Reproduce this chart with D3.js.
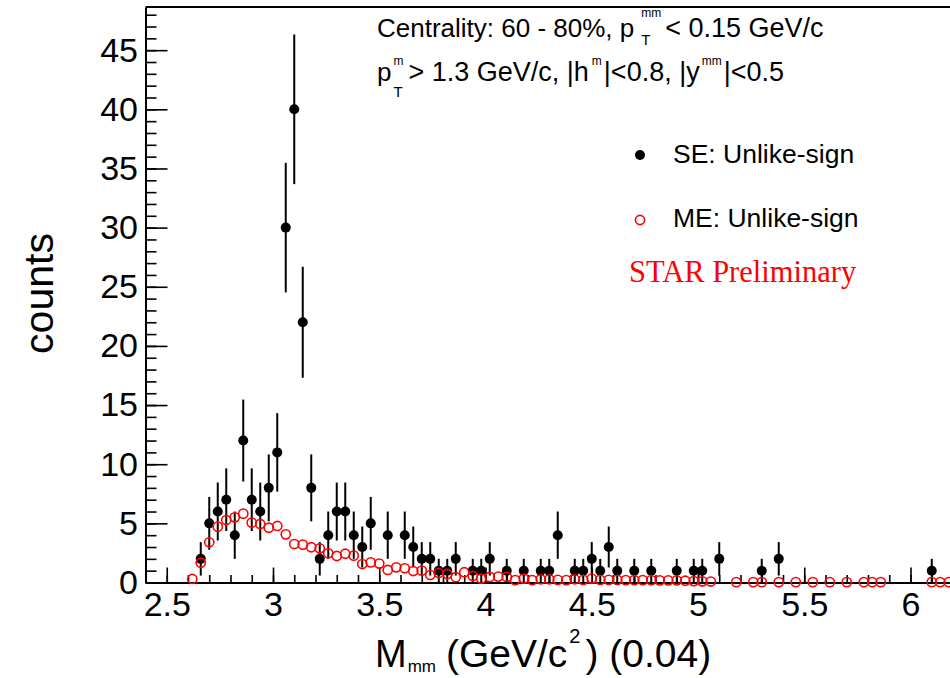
<!DOCTYPE html>
<html>
<head>
<meta charset="utf-8">
<script src="https://cdn.jsdelivr.net/npm/d3@7"></script>
<style>
  body { margin: 0; background: #fff; }
  svg { display: block; }
  text { font-family: "Liberation Sans", Arial, Helvetica, sans-serif; }
</style>
</head>
<body>
<svg id="chart" width="950" height="678"></svg>
<script>
// Same-event unlike-sign pairs: bin centre (GeV/c^2) and counts
const seMass = [2.66, 2.70, 2.74, 2.78, 2.82, 2.86, 2.90, 2.94, 2.98, 3.02,
                3.06, 3.10, 3.14, 3.18, 3.22, 3.26, 3.30, 3.34, 3.38, 3.42,
                3.46, 3.54, 3.62, 3.66, 3.70, 3.74, 3.78, 3.82, 3.86, 3.94,
                3.98, 4.02, 4.10, 4.18, 4.26, 4.30, 4.34, 4.42, 4.46, 4.50,
                4.54, 4.58, 4.62, 4.70, 4.78, 4.90, 4.98, 5.02, 5.10, 5.30,
                5.38, 6.10];
const seCounts = [2, 5, 6, 7, 4, 12, 7, 6, 8, 11,
                  30, 40, 22, 8, 2, 4, 6, 6, 4, 3,
                  5, 4, 4, 3, 2, 2, 1, 1, 2, 1,
                  1, 2, 1, 1, 1, 1, 4, 1, 1, 2,
                  1, 3, 1, 1, 1, 1, 1, 1, 2, 1,
                  2, 1];

// Mixed-event unlike-sign background (normalised)
const meMass = [2.62, 2.66, 2.70, 2.74, 2.78, 2.82, 2.86, 2.90, 2.94, 2.98,
                3.02, 3.06, 3.10, 3.14, 3.18, 3.22, 3.26, 3.30, 3.34, 3.38,
                3.42, 3.46, 3.50, 3.54, 3.58, 3.62, 3.66, 3.70, 3.74, 3.78,
                3.82, 3.86, 3.90, 3.94, 3.98, 4.02, 4.06, 4.10, 4.14, 4.18,
                4.22, 4.26, 4.30, 4.34, 4.38, 4.42, 4.46, 4.50, 4.54, 4.58,
                4.62, 4.66, 4.70, 4.74, 4.78, 4.82, 4.86, 4.90, 4.94, 4.98,
                5.02, 5.06, 5.18, 5.26, 5.30, 5.38, 5.46, 5.54, 5.62, 5.70,
                5.78, 5.82, 5.86, 6.10, 6.14, 6.18];
const meCounts = [0.30, 1.67, 3.40, 4.72, 5.28, 5.51, 5.82, 5.06, 4.95, 4.63,
                  4.78, 4.07, 3.25, 3.20, 2.98, 2.89, 2.47, 2.24, 2.43, 2.27,
                  1.56, 1.70, 1.60, 1.06, 1.28, 1.20, 0.97, 1.00, 0.63, 0.80,
                  0.72, 0.45, 0.87, 0.55, 0.33, 0.47, 0.50, 0.47, 0.20, 0.33,
                  0.20, 0.27, 0.27, 0.22, 0.20, 0.27, 0.22, 0.33, 0.22, 0.22,
                  0.22, 0.20, 0.20, 0.20, 0.20, 0.18, 0.18, 0.18, 0.15, 0.12,
                  0.10, 0.08, 0.03, 0.03, 0.03, 0.03, 0.03, 0.03, 0.03, 0.03,
                  0.03, 0.03, 0.03, 0.03, 0.03, 0.03];

// Axis ticks
const xTickValues = [2.5, 3, 3.5, 4, 4.5, 5, 5.5, 6];
const xTickLabels = ["2.5", "3", "3.5", "4", "4.5", "5", "5.5", "6"];
const xMinorValues = d3.range(24, 63).map(d => d / 10);
const yTickValues = [0, 5, 10, 15, 20, 25, 30, 35, 40, 45];
const yTickLabels = ["0", "5", "10", "15", "20", "25", "30", "35", "40", "45"];
const yMinorValues = d3.range(0, 49);

const svg = d3.select("#chart");
const frame = { left: 145.5, right: 953, top: 7, bottom: 582.5 };

const x = d3.scaleLinear().domain([2.4, 6.2]).range([frame.left, frame.right]);
const y = d3.scaleLinear().domain([0, 48.65]).range([frame.bottom, frame.top]);

// Lays out text pieces left to right; a piece with "stack" starts at the
// same x as the piece before it (sub- and superscript on one letter).
function flow(parent, x0, pieces) {
  let cx = x0, lastStart = x0, lastEnd = x0;
  pieces.forEach(p => {
    const start = p.stack ? lastStart : cx + (p.dx || 0);
    const t = parent.append("text")
      .attr("x", start).attr("y", p.y)
      .attr("font-size", p.size)
      .attr("fill", "#000")
      .text(p.text);
    const end = start + t.node().getComputedTextLength();
    if (p.stack) {
      lastEnd = Math.max(lastEnd, end);
    } else {
      lastStart = start;
      lastEnd = end;
    }
    cx = lastEnd;
  });
}

// Minor ticks
svg.append("g")
  .attr("transform", `translate(0,${frame.bottom})`)
  .call(d3.axisBottom(x).tickValues(xMinorValues).tickSize(-7.5).tickFormat(""))
  .call(g => g.select(".domain").remove())
  .call(g => g.selectAll("line").attr("stroke", "#000").attr("stroke-width", 1.6));

svg.append("g")
  .attr("transform", `translate(${frame.left},0)`)
  .call(d3.axisLeft(y).tickValues(yMinorValues).tickSize(-11).tickFormat(""))
  .call(g => g.select(".domain").remove())
  .call(g => g.selectAll("line").attr("stroke", "#000").attr("stroke-width", 1.6));

// Major ticks and labels
svg.append("g")
  .attr("transform", `translate(0,${frame.bottom})`)
  .call(d3.axisBottom(x).tickValues(xTickValues)
    .tickFormat((d, i) => xTickLabels[i])
    .tickSizeInner(-15).tickSizeOuter(0).tickPadding(9))
  .call(g => g.select(".domain").attr("stroke", "#000").attr("stroke-width", 2))
  .call(g => g.selectAll("line").attr("stroke", "#000").attr("stroke-width", 1.6))
  .call(g => g.selectAll("text").attr("fill", "#000").attr("font-size", 34)
    .attr("font-family", "'Liberation Sans', Arial, sans-serif"));

svg.append("g")
  .attr("transform", `translate(${frame.left},0)`)
  .call(d3.axisLeft(y).tickValues(yTickValues)
    .tickFormat((d, i) => yTickLabels[i])
    .tickSizeInner(-22).tickSizeOuter(0).tickPadding(7.5))
  .call(g => g.select(".domain").attr("stroke", "#000").attr("stroke-width", 2))
  .call(g => g.selectAll("line").attr("stroke", "#000").attr("stroke-width", 1.6))
  .call(g => g.selectAll("text").attr("fill", "#000").attr("font-size", 34)
    .attr("font-family", "'Liberation Sans', Arial, sans-serif"));

// Top and right frame edges
svg.append("line").attr("x1", frame.left).attr("x2", frame.right)
  .attr("y1", frame.top).attr("y2", frame.top)
  .attr("stroke", "#000").attr("stroke-width", 2);
svg.append("line").attr("x1", frame.right).attr("x2", frame.right)
  .attr("y1", frame.top).attr("y2", frame.bottom)
  .attr("stroke", "#000").attr("stroke-width", 2);

// Same-event points with Poisson error bars
const se = seMass.map((m, i) => ({ m, c: seCounts[i], e: Math.sqrt(seCounts[i]) }));
const seG = svg.append("g");
seG.selectAll("line").data(se).join("line")
  .attr("x1", d => x(d.m)).attr("x2", d => x(d.m))
  .attr("y1", d => y(Math.max(0, d.c - d.e))).attr("y2", d => y(d.c + d.e))
  .attr("stroke", "#000").attr("stroke-width", 2);
seG.selectAll("circle").data(se).join("circle")
  .attr("cx", d => x(d.m)).attr("cy", d => y(d.c)).attr("r", 5)
  .attr("fill", "#000");

// Mixed-event points
const me = meMass.map((m, i) => ({ m, c: meCounts[i] }));
svg.append("g").selectAll("circle").data(me).join("circle")
  .attr("cx", d => x(d.m)).attr("cy", d => y(d.c)).attr("r", 4.6)
  .attr("fill", "none").attr("stroke", "#ff0000").attr("stroke-width", 1.6);

// Selection cuts
const notes = svg.append("g");
flow(notes, 377, [
  { text: "Centrality: 60 - 80%, p", y: 37, size: 26 },
  { text: "mm", y: 17, size: 12, dx: 7 },
  { text: "T", y: 45, size: 15, stack: true },
  { text: " < 0.15 GeV/c", y: 37, size: 27, dx: 4 }
]);
flow(notes, 377, [
  { text: "p", y: 81, size: 26 },
  { text: "m", y: 65, size: 12, dx: 2 },
  { text: "T", y: 97, size: 15, stack: true },
  { text: " > 1.3 GeV/c, |h", y: 81, size: 27, dx: 5 },
  { text: "m", y: 65, size: 12, dx: 3 },
  { text: "|<0.8, |y", y: 81, size: 27, dx: 2 },
  { text: "mm", y: 65, size: 12, dx: 2 },
  { text: "|<0.5", y: 81, size: 27, dx: 2 }
]);

// Legend
svg.append("circle").attr("cx", 640).attr("cy", 155).attr("r", 5).attr("fill", "#000");
svg.append("text").attr("x", 673).attr("y", 163).attr("font-size", 26.5).text("SE: Unlike-sign");
svg.append("circle").attr("cx", 640).attr("cy", 220).attr("r", 4.6)
  .attr("fill", "none").attr("stroke", "#ff0000").attr("stroke-width", 1.6);
svg.append("text").attr("x", 673).attr("y", 227).attr("font-size", 26.5).text("ME: Unlike-sign");
svg.append("text").attr("x", 629).attr("y", 282).attr("font-size", 30.5)
  .attr("fill", "#ff0000")
  .style("font-family", "'Liberation Serif', 'Times New Roman', serif")
  .text("STAR Preliminary");

// Axis titles
svg.append("text")
  .attr("transform", "translate(53,293.5) rotate(-90)")
  .attr("text-anchor", "middle").attr("font-size", 41).text("counts");

flow(svg.append("g"), 375, [
  { text: "M", y: 667, size: 38 },
  { text: "mm", y: 672, size: 17, dx: 1 },
  { text: " (GeV/c", y: 667, size: 39, dx: 10 },
  { text: "2", y: 643, size: 20, dx: 2 },
  { text: ") (0.04)", y: 667, size: 39, dx: 5 }
]);
</script>
</body>
</html>
